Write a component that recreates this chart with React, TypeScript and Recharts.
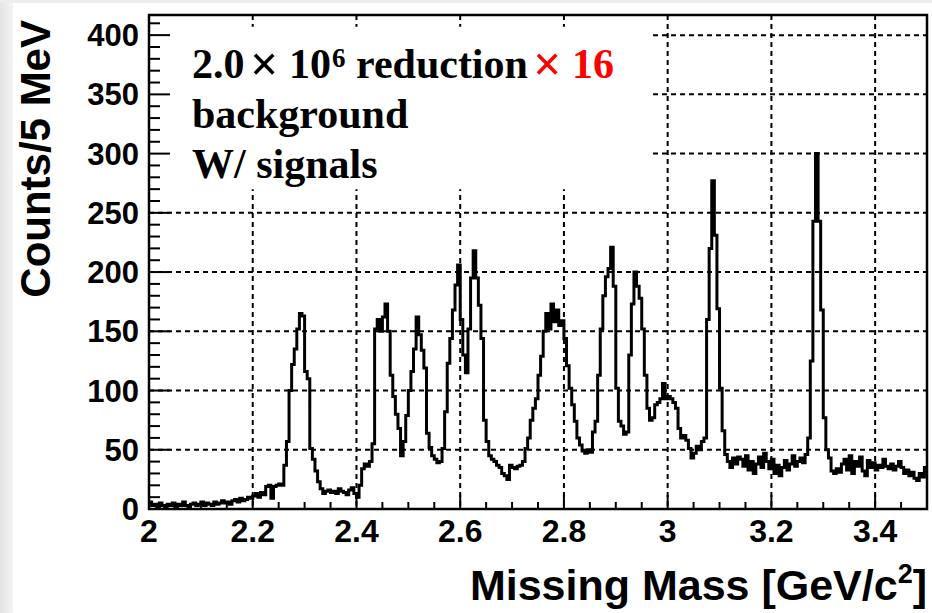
import { LineChart, Line, XAxis, YAxis, CartesianGrid, ReferenceArea } from "recharts";

// counts per 5 MeV bin, 2.000 -> 3.500 GeV/c2 (300 bins)
const counts = [
  6, 3, 4, 2, 5, 3, 2, 4, 3, 5,
  2, 4, 3, 6, 3, 2, 4, 5, 3, 4,
  6, 3, 5, 4, 3, 6, 4, 5, 7, 5,
  6, 4, 7, 8, 6, 9, 7, 8, 10, 9,
  11, 13, 10, 14, 12, 19, 20, 9, 19, 20,
  21, 20, 37, 57, 100, 122, 135, 152, 165, 163,
  116, 110, 51, 42, 32, 23, 17, 13, 15, 16,
  14, 15, 13, 17, 15, 14, 12, 16, 18, 13,
  10, 20, 34, 38, 36, 40, 55, 152, 160, 150,
  162, 173, 150, 113, 95, 80, 68, 45, 57, 79,
  100, 116, 135, 162, 147, 134, 119, 64, 52, 45,
  42, 39, 40, 51, 82, 123, 144, 168, 189, 206,
  160, 130, 115, 152, 195, 218, 195, 172, 144, 75,
  57, 45, 42, 40, 37, 35, 30, 28, 25, 37,
  35, 34, 36, 37, 40, 51, 60, 75, 85, 93,
  113, 129, 150, 165, 152, 173, 158, 168, 155, 159,
  144, 121, 102, 88, 74, 60, 54, 49, 47, 50,
  48, 65, 74, 113, 152, 180, 196, 203, 221, 188,
  102, 74, 70, 63, 65, 130, 173, 200, 188, 178,
  152, 113, 85, 75, 77, 88, 90, 93, 106, 93,
  95, 93, 90, 85, 68, 60, 62, 58, 51, 43,
  47, 53, 50, 57, 60, 160, 220, 277, 231, 169,
  102, 66, 46, 40, 35, 43, 38, 44, 42, 36,
  45, 33, 40, 30, 38, 44, 35, 47, 40, 34,
  42, 30, 37, 28, 35, 41, 33, 38, 45, 36,
  40, 43, 39, 46, 60, 125, 243, 300, 243, 168,
  77, 50, 43, 32, 30, 34, 31, 38, 42, 33,
  45, 30, 40, 36, 44, 32, 28, 41, 35, 39,
  33, 37, 35, 42, 36, 34, 38, 33, 36, 40,
  35, 30, 33, 28, 31, 26, 24, 30, 27, 35,
];

const xMin = 2;
const xMax = 3.5;
const binWidth = 0.005;
const yMax = 417;

const xMajor = [2, 2.2, 2.4, 2.6, 2.8, 3, 3.2, 3.4];
const xTicks = Array.from({ length: 31 }, (_, i) => Math.round((xMin + i * 0.05) * 100) / 100);
const yMajor = [0, 50, 100, 150, 200, 250, 300, 350, 400];
const yTicks = Array.from({ length: 42 }, (_, i) => i * 10);

// histogram edges: value at each bin's low edge, plus closing edge
const rows = counts.map((c, i) => ({ x: xMin + i * binWidth, count: c }));
rows.push({ x: xMax, count: counts[counts.length - 1] });

const sans = "'Liberation Sans', Arial, Helvetica, sans-serif";
const serif = "'Liberation Serif', 'Times New Roman', Times, serif";

const BottomTick = ({ x, y, payload }) => {
  const major = xMajor.includes(payload.value);
  return (
    <g>
      <line x1={x} x2={x} y1={y} y2={y - (major ? 14 : 7)} stroke="#000" strokeWidth={2} />
      {major && (
        <text x={x} y={y + 33} textAnchor="middle" fontFamily={sans} fontWeight="bold" fontSize={32} fill="#000">
          {payload.value}
        </text>
      )}
    </g>
  );
};

const TopTick = ({ x, y, payload }) => {
  const major = xMajor.includes(payload.value);
  return <line x1={x} x2={x} y1={y} y2={y + (major ? 12 : 6)} stroke="#000" strokeWidth={2} />;
};

const LeftTick = ({ x, y, payload }) => {
  const major = yMajor.includes(payload.value);
  return (
    <g>
      <line x1={x} x2={x + (major ? 21 : 11)} y1={y} y2={y} stroke="#000" strokeWidth={2} />
      {major && (
        <text x={x - 10} y={y + 11} textAnchor="end" fontFamily={sans} fontWeight="bold" fontSize={31} fill="#000">
          {payload.value}
        </text>
      )}
    </g>
  );
};

export default function App() {
  return (
    <div style={{ position: "absolute", left: 0, top: 0, width: 932, height: 613, background: "#fff" }}>
      <div style={{ position: "absolute", left: 0, top: 0, width: 13, height: 613, background: "linear-gradient(to right, #e4e4e4, #f4f4f4)" }} />
      <div style={{ position: "absolute", left: 0, top: 0, width: 932, height: 3, background: "#ededed" }} />
      <div style={{ position: "absolute", left: 0, top: 0 }}>
        <LineChart width={932} height={613} data={rows} margin={{ top: 15, right: 5, bottom: 0, left: 0 }}>
          <CartesianGrid
            horizontalValues={yMajor.filter((v) => v > 0)}
            verticalValues={xMajor.filter((v) => v > xMin)}
            stroke="#000"
            strokeWidth={2}
            strokeDasharray="5 4"
          />
          <ReferenceArea x1={xMin} x2={2.965} y1={270} y2={407} fill="#fff" fillOpacity={1} stroke="none" ifOverflow="visible" />
          <Line
            type="stepAfter"
            dataKey="count"
            stroke="#000"
            strokeWidth={3}
            dot={false}
            isAnimationActive={false}
          />
          <ReferenceArea x1={xMin} x2={xMax} y1={0} y2={yMax} fill="none" stroke="#000" strokeWidth={2.5} ifOverflow="visible" />
          <XAxis
            dataKey="x"
            type="number"
            domain={[xMin, xMax]}
            ticks={xTicks}
            interval={0}
            height={104}
            axisLine={false}
            tickLine={false}
            tickSize={0}
            tickMargin={0}
            allowDataOverflow
            tick={(p) => <BottomTick {...p} />}
          />
          <XAxis
            xAxisId="top"
            orientation="top"
            dataKey="x"
            type="number"
            domain={[xMin, xMax]}
            ticks={xTicks}
            interval={0}
            height={0}
            axisLine={false}
            tickLine={false}
            tickSize={0}
            tickMargin={0}
            allowDataOverflow
            tick={(p) => <TopTick {...p} />}
          />
          <YAxis
            type="number"
            domain={[0, yMax]}
            ticks={yTicks}
            interval={0}
            width={149}
            axisLine={false}
            tickLine={false}
            tickSize={0}
            tickMargin={0}
            allowDataOverflow
            tick={(p) => <LeftTick {...p} />}
          />
        </LineChart>
      </div>
      <svg width={932} height={613} style={{ position: "absolute", left: 0, top: 0, pointerEvents: "none" }}>
        <text fontFamily={serif} fontWeight="bold" fontSize={42} fill="#000">
          <tspan x={192} y={78}>2.0</tspan>
          <tspan x={250} y={81} fontSize={50}>×</tspan>
          <tspan x={289} y={78}>10</tspan>
          <tspan x={332} y={67} fontSize={27}>6</tspan>
          <tspan x={356} y={78}>reduction</tspan>
          <tspan x={533} y={81} fontSize={50} fill="#ff0000">×</tspan>
          <tspan x={572} y={78} fill="#ff0000">16</tspan>
        </text>
        <text x={192} y={128} fontFamily={serif} fontWeight="bold" fontSize={42} fill="#000">background</text>
        <text x={192} y={178} fontFamily={serif} fontWeight="bold" fontSize={42} fill="#000">W/ signals</text>
        <text x={927} y={600} textAnchor="end" fontFamily={sans} fontWeight="bold" fontSize={43} fill="#000">
          Missing Mass [GeV/c<tspan dy={-17} fontSize={27}>2</tspan><tspan dy={17}>]</tspan>
        </text>
        <text transform="translate(50,20) rotate(-90)" textAnchor="end" fontFamily={sans} fontWeight="bold" fontSize={42} fill="#000">
          Counts/5 MeV
        </text>
      </svg>
    </div>
  );
}
